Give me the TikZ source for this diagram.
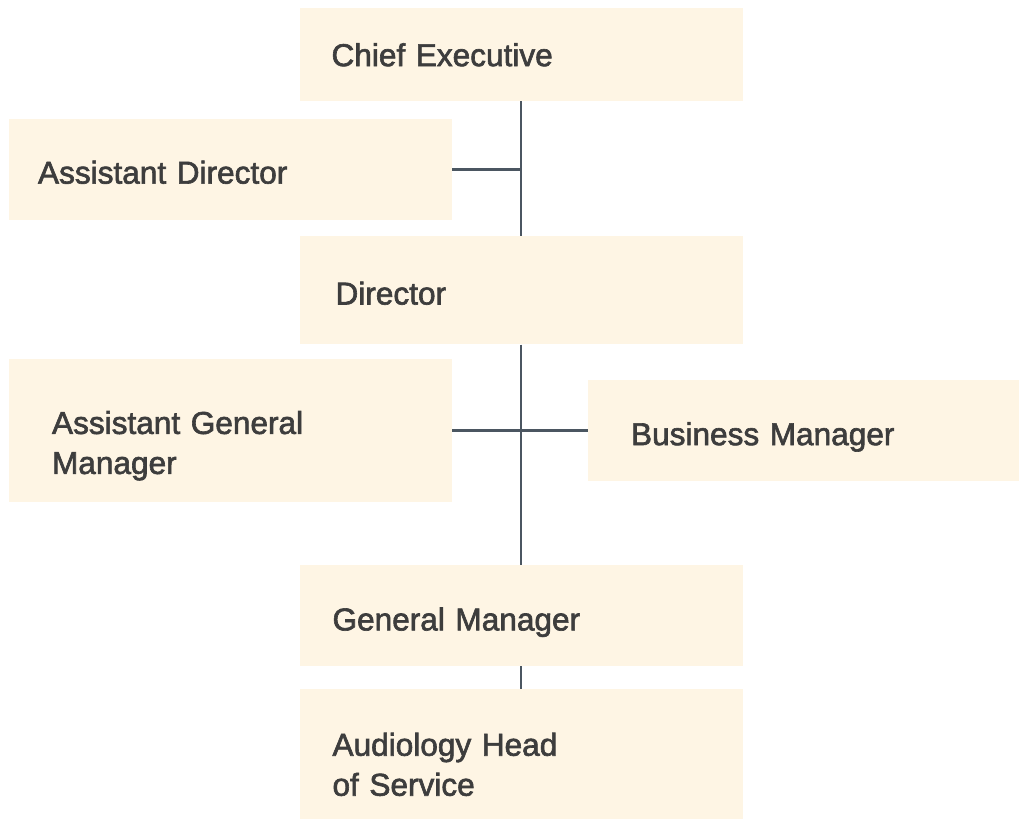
\documentclass[tikz,border=0pt]{standalone}
\usepackage{fontspec}
\setmainfont{Liberation Sans}[BoldFont={Liberation Sans}, BoldFeatures={FakeBold=2}]
\usepackage{xcolor}
\usetikzlibrary{positioning}

\definecolor{boxfill}{HTML}{FEF5E4}
\definecolor{linkcol}{HTML}{4B5661}
\definecolor{textcol}{HTML}{3D3D3D}

% sets a label a little lower inside its box
\newcommand{\sunk}[2]{\raisebox{-#1}[\height][\depth]{\begin{tabular}{@{}l@{}}#2\end{tabular}}}

\begin{document}
\begin{tikzpicture} [
	x=1pt, y=-1pt, % one unit is one pixel of the chart
	every node/.style={font=\fontsize{31.6}{40}\selectfont\bfseries, text=textcol},
	post/.style={fill=boxfill, minimum width=443pt, inner ysep=0pt, align=left}, % sets the look of each box
	link/.style={draw=linkcol, line width=2.8pt}, % the connecting lines
	]
	\useasboundingbox (0,0) rectangle (1019,819);

	\node[post, minimum height=93pt, inner xsep=32pt, text width=379pt] (ce) at (521,54.5) {\sunk{3.6pt}{Chief Executive}};
	\node[post, minimum height=108pt, inner xsep=36pt, text width=371pt, below=135pt of ce] (dir) {\sunk{6.1pt}{Director}};
	\node[post, minimum height=101pt, inner xsep=33pt, text width=377pt, below=220pt of dir] (gm) {\sunk{7.1pt}{General Manager}};
	\node[post, minimum height=130pt, inner xsep=33pt, text width=377pt, below=23pt of gm] (aud) {\sunk{13.5pt}{Audiology Head\\of Service}};

	\node[post, minimum height=101pt, inner xsep=29pt, text width=385pt] (ad) at (230.5,169.5) {\sunk{6.1pt}{Assistant Director}};
	\node[post, minimum height=143pt, inner xsep=43pt, text width=357pt] (agm) at (230.5,430.5) {\sunk{15.4pt}{Assistant General\\Manager}};
	\node[post, minimum width=431pt, minimum height=101pt, inner xsep=43pt, text width=345pt] (bm) at (803.5,430.5) {\sunk{6.6pt}{Business Manager}};

	\draw[link]
		(ce.south) -- (dir.north)
		(ad.east) -- (ad.east -| ce.south)
		(dir.south) -- (gm.north)
		(agm.east) -- (bm.west)
		(gm.south) -- (aud.north)
	;
\end{tikzpicture}
\end{document}
